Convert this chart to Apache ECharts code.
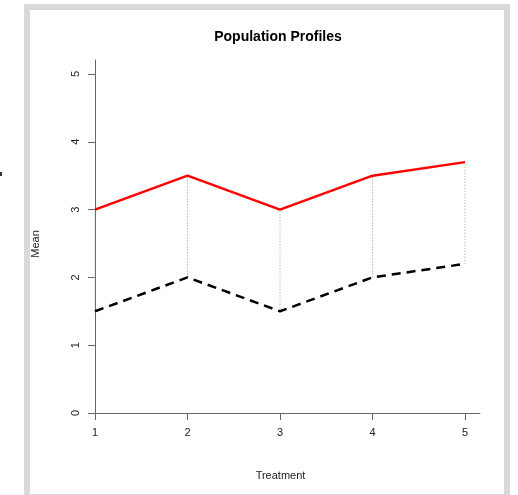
<!DOCTYPE html>
<html>
<head>
<meta charset="utf-8">
<script src="https://cdn.jsdelivr.net/npm/echarts@6/dist/echarts.min.js"></script>
<style>html,body{margin:0;padding:0;background:#fff}#c{width:518px;height:495px}</style>
</head>
<body>
<div id="c"></div>
<script>
const treatments = [1, 2, 3, 4, 5];
const groupA = [3, 3.5, 3, 3.5, 3.7];
const groupB = [1.5, 2, 1.5, 2, 2.2];
const xTicks = [1, 2, 3, 4, 5];
const yTicks = [0, 1, 2, 3, 4, 5];

const font = 'Liberation Sans, Arial, sans-serif';
const chart = echarts.init(document.getElementById('c'), null, {renderer: 'canvas'});

const connectors = treatments.map((t, i) => ({
  type: 'line',
  data: [[t, groupB[i]], [t, groupA[i]]],
  symbol: 'none',
  silent: true,
  z: 1,
  lineStyle: {color: '#6fb36f', width: 1, type: [1, 2]}
}));

chart.setOption({
  animation: false,
  backgroundColor: '#fff',
  title: {
    text: 'Population Profiles',
    left: 273, top: 25,
    textAlign: 'center',
    textStyle: {fontFamily: font, fontSize: 14, fontWeight: 'bold', color: '#000'}
  },
  grid: {left: 95, right: 38, top: 60, bottom: 82},
  xAxis: {
    type: 'value', min: 1, max: 5.162,
    name: 'Treatment', nameLocation: 'middle', nameGap: 57,
    nameTextStyle: {fontFamily: font, fontSize: 11, color: '#222', padding: [0, 14, 0, 0]},
    axisLine: {show: true, lineStyle: {color: '#666', width: 1}},
    axisTick: {show: true, length: 7, lineStyle: {color: '#666'}, customValues: xTicks},
    axisLabel: {fontFamily: font, fontSize: 11, color: '#222', margin: 14, customValues: xTicks},
    splitLine: {show: false}
  },
  yAxis: {
    type: 'value', min: 0, max: 5.206,
    name: 'Mean', nameLocation: 'middle', nameGap: 54, nameRotate: 90,
    nameTextStyle: {fontFamily: font, fontSize: 11, color: '#222', padding: [0, 15, 0, 0]},
    axisLine: {show: true, onZero: false, lineStyle: {color: '#666', width: 1}},
    axisTick: {show: true, length: 7, lineStyle: {color: '#666'}, customValues: yTicks},
    axisLabel: {fontFamily: font, fontSize: 11, color: '#222', margin: 14, rotate: 90, customValues: yTicks},
    splitLine: {show: false}
  },
  graphic: [
    {type: 'rect', shape: {x: 27, y: 7, width: 480, height: 490}, style: {fill: 'none', stroke: '#d9d9d9', lineWidth: 6}, z: -10},
    {type: 'rect', shape: {x: 0, y: 172, width: 2, height: 4}, style: {fill: '#333'}}
  ],
  series: connectors.concat([
    {
      type: 'line', name: 'A', data: treatments.map((t, i) => [t, groupA[i]]),
      symbol: 'none', z: 3,
      lineStyle: {color: '#ff0000', width: 2.5}
    },
    {
      type: 'line', name: 'B', data: treatments.map((t, i) => [t, groupB[i]]),
      symbol: 'none', z: 3,
      lineStyle: {color: '#000', width: 2.5, type: [9, 6]}
    }
  ])
});
</script>
</body>
</html>
